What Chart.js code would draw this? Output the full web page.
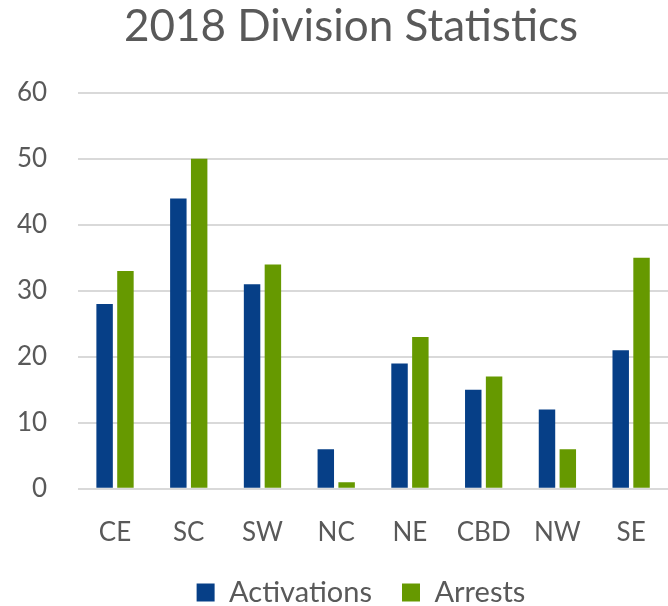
<!DOCTYPE html>
<html lang="en">
<head>
    <meta charset="UTF-8">
    <title>2018 Division Statistics</title>
    <script src="https://cdn.jsdelivr.net/npm/chart.js"></script>
    <style>
        html, body { margin: 0; padding: 0; overflow: hidden; background: #fff; }
        canvas { display: block; }
    </style>
</head>
<body>
    <canvas id="divChart" width="668" height="606"></canvas>

    <script>
        // chart data
        const divisions = ['CE', 'SC', 'SW', 'NC', 'NE', 'CBD', 'NW', 'SE'];
        const activations = [28, 44, 31, 6, 19, 15, 12, 21];
        const arrests = [33, 50, 34, 1, 23, 17, 6, 35];
        const yTicks = [0, 10, 20, 30, 40, 50, 60];

        const textColor = '#595959';
        const fontFamily = 'Lato, "Open Sans", sans-serif';

        // title and legend sit a little right of the canvas centre in the original
        const nudgeBoxes = {
            id: 'nudgeBoxes',
            afterLayout(chart) {
                chart.titleBlock.left += 44;
                chart.legend.left += 64;
                chart.legend.top -= 20;
                chart.legend.bottom -= 20;
            }
        };

        const ctx = document.getElementById('divChart').getContext('2d');
        const divChart = new Chart(ctx, {
            type: 'bar',
            data: {
                labels: divisions,
                datasets: [{
                    label: 'Activations',
                    data: activations,
                    backgroundColor: '#063F87',
                    categoryPercentage: 0.565,
                    barPercentage: 0.79
                }, {
                    label: 'Arrests',
                    data: arrests,
                    backgroundColor: '#669900',
                    categoryPercentage: 0.565,
                    barPercentage: 0.79
                }]
            },
            options: {
                responsive: false,
                animation: false,
                layout: {
                    padding: { left: -14, right: -4, top: 0, bottom: -31 }
                },
                plugins: {
                    title: {
                        display: true,
                        text: '2018 Division Statistics',
                        color: textColor,
                        font: { family: fontFamily, size: 44, weight: 'normal' },
                        padding: { top: 0, bottom: 40 }
                    },
                    legend: {
                        position: 'bottom',
                        labels: {
                            color: textColor,
                            font: { family: fontFamily, size: 29 },
                            boxWidth: 18,
                            boxHeight: 18,
                            padding: 30
                        }
                    },
                    tooltip: { enabled: false }
                },
                scales: {
                    x: {
                        grid: { display: false },
                        border: { display: false },
                        ticks: {
                            color: textColor,
                            font: { family: fontFamily, size: 26 },
                            padding: 20
                        },
                        afterFit: (axis) => {
                            axis.paddingLeft = 0;
                            axis.paddingRight = 0;
                        }
                    },
                    y: {
                        min: yTicks[0],
                        max: yTicks[yTicks.length - 1],
                        afterBuildTicks: (axis) => {
                            axis.ticks = yTicks.map(v => ({ value: v }));
                        },
                        grid: { color: '#D9D9D9', lineWidth: 2, drawTicks: false },
                        border: { display: false },
                        ticks: {
                            color: textColor,
                            font: { family: fontFamily, size: 26 },
                            padding: 31
                        }
                    }
                }
            },
            plugins: [nudgeBoxes]
        });
    </script>
</body>
</html>
